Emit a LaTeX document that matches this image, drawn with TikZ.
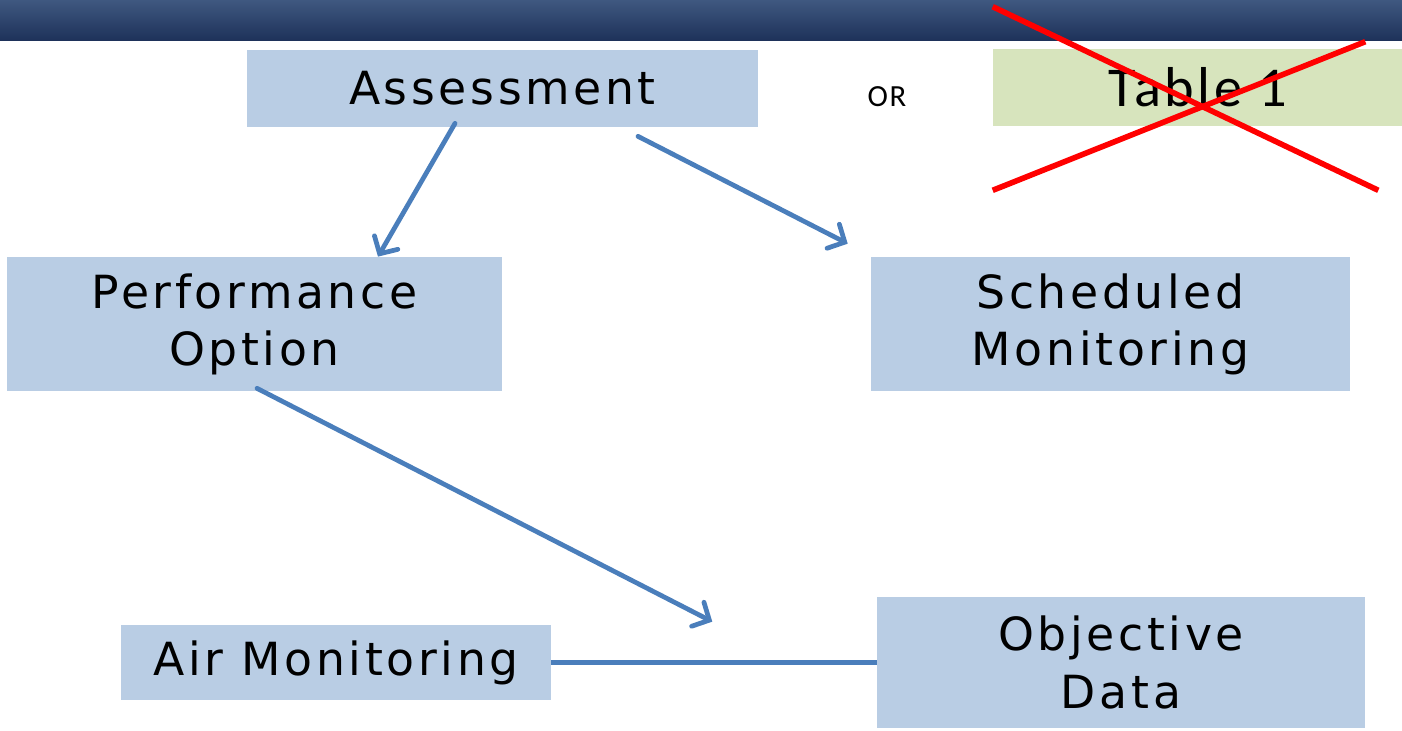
\documentclass[tikz,border=0pt]{standalone}
\usepackage{fontspec}
\setmainfont{DejaVu Sans}
\newfontfamily\boxfont[LetterSpace=8]{DejaVu Sans}
\newfontfamily\calfont[LetterSpace=6]{Carlito}
\usetikzlibrary{arrows.meta,calc}
\definecolor{boxblue}{RGB}{185,205,228}
\definecolor{boxgreen}{RGB}{215,228,189}
\definecolor{flowblue}{RGB}{74,126,187}
\definecolor{bartop}{RGB}{63,88,128}
\definecolor{barbottom}{RGB}{30,50,90}
\definecolor{crossred}{RGB}{255,0,0}

\begin{document}
\begin{tikzpicture}[x=0.02cm, y=-0.02cm,
  box/.style={fill=boxblue, inner sep=0pt, align=center, font=\boxfont\fontsize{26}{32.5}\selectfont},
  tablebox/.style={fill=boxgreen, inner sep=0pt, align=center, font=\calfont\fontsize{32}{36}\selectfont},
  flow/.style={-{Straight Barb[length=2.6mm, width=5.4mm, line cap=round]}, line width=2.7pt, draw=flowblue, line cap=round},
  cross/.style={line width=3.2pt, draw=crossred}]
  \useasboundingbox (0,0) rectangle (1402,730);
  \shade[top color=bartop, bottom color=barbottom] (0,0) rectangle (1402,40);
  \node[box, minimum width=10.22cm, minimum height=1.54cm] (assess) at (502.5,88.5) {Assessment};
  \node[font=\calfont\fontsize{17.5}{20}\selectfont] (or) at (887,97) {OR};
  \node[tablebox, minimum width=8.18cm, minimum height=1.54cm] (table) at (1197.5,87.5) {Table 1};
  \node[box, minimum width=9.9cm, minimum height=2.68cm] (perf) at (254.5,324) {Performance\\Option};
  \node[box, minimum width=9.58cm, minimum height=2.68cm] (sched) at (1110.5,324) {Scheduled\\Monitoring};
  \node[box, minimum width=8.6cm, minimum height=1.5cm] (air) at (336,662.5) {Air Monitoring};
  \node[box, minimum width=9.76cm, minimum height=2.62cm] (obj) at (1121,662.5) {Objective\\Data};
  \draw[flow] ([xshift=-0.95cm, yshift=0.08cm]assess.south) -- ([xshift=2.47cm]perf.north);
  \draw[flow] ([xshift=2.71cm, yshift=-0.18cm]assess.south) -- ([xshift=-0.46cm, yshift=0.26cm]sched.north west);
  \draw[flow] ([xshift=0.05cm, yshift=0.06cm]perf.south) -- ([xshift=3.22cm, yshift=0.06cm]air.north east);
  \draw[line width=2.7pt, draw=flowblue] (air.east) -- (obj.west);
  % crossed out
  \draw[cross] ([yshift=0.84cm]table.north west) -- ([xshift=-0.48cm, yshift=-1.28cm]table.south east);
  \draw[cross] ([yshift=-1.28cm]table.south west) -- ([xshift=-0.74cm, yshift=0.14cm]table.north east);
\end{tikzpicture}
\end{document}
